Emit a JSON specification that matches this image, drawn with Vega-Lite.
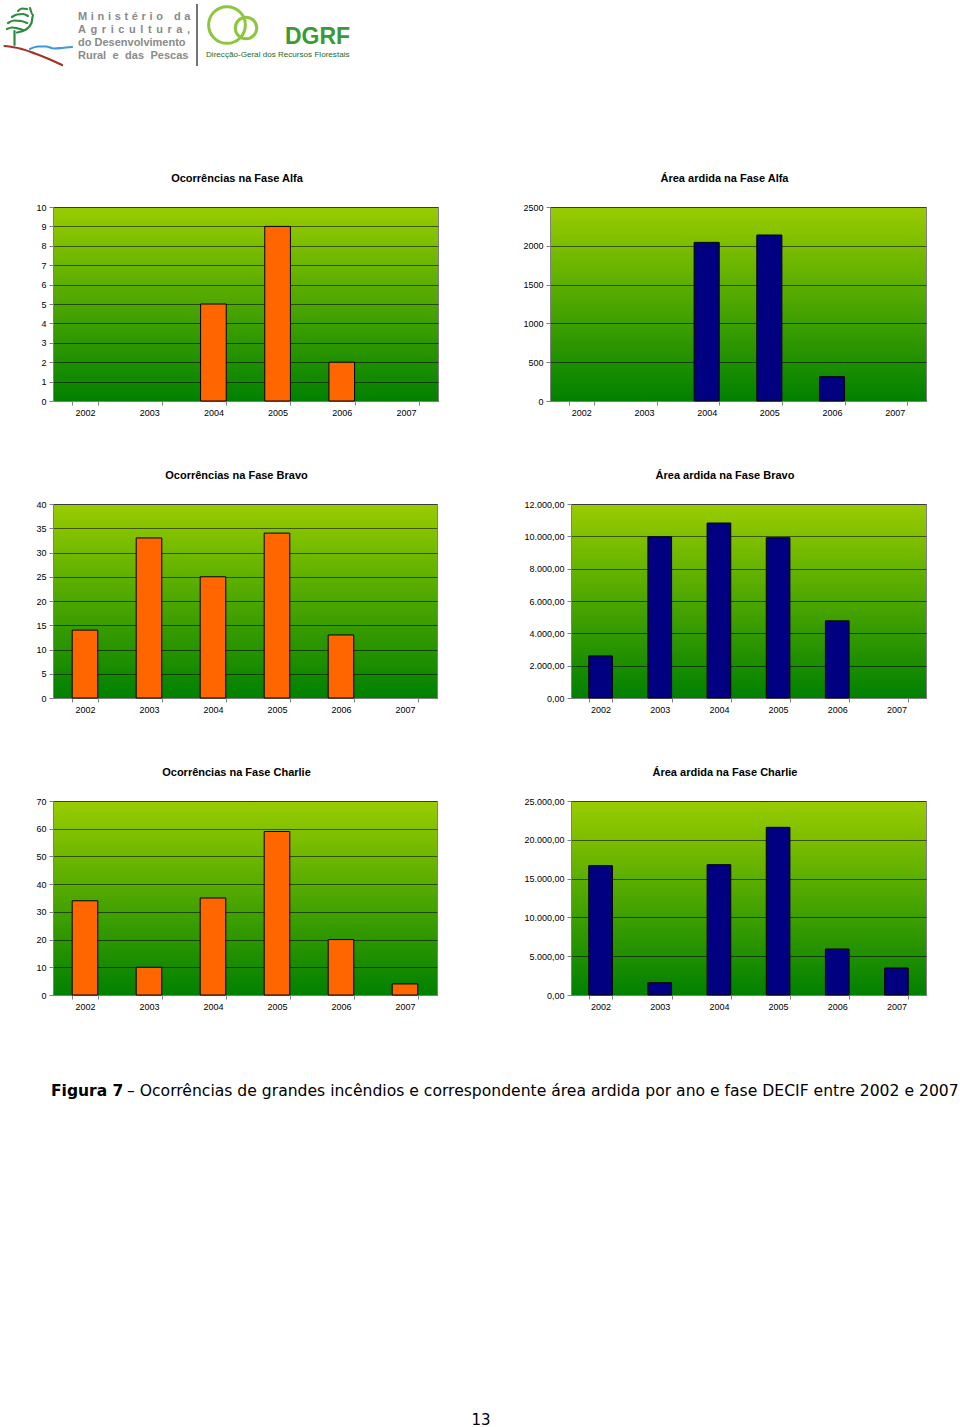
{
  "$schema": "https://vega.github.io/schema/vega-lite/v6.json",
  "background": "#ffffff",
  "padding": {"left": 3, "top": 0, "right": 0, "bottom": 0},
  "datasets": {
    "alfa_oc": [{"ano": "2004", "valor": 5}, {"ano": "2005", "valor": 9}, {"ano": "2006", "valor": 2}],
    "alfa_area": [{"ano": "2004", "valor": 2044}, {"ano": "2005", "valor": 2139}, {"ano": "2006", "valor": 314}],
    "bravo_oc": [{"ano": "2002", "valor": 14}, {"ano": "2003", "valor": 33}, {"ano": "2004", "valor": 25}, {"ano": "2005", "valor": 34}, {"ano": "2006", "valor": 13}],
    "bravo_area": [{"ano": "2002", "valor": 2602}, {"ano": "2003", "valor": 9976}, {"ano": "2004", "valor": 10823}, {"ano": "2005", "valor": 9914}, {"ano": "2006", "valor": 4771}],
    "charlie_oc": [{"ano": "2002", "valor": 34}, {"ano": "2003", "valor": 10}, {"ano": "2004", "valor": 35}, {"ano": "2005", "valor": 59}, {"ano": "2006", "valor": 20}, {"ano": "2007", "valor": 4}],
    "charlie_area": [{"ano": "2002", "valor": 16667}, {"ano": "2003", "valor": 1589}, {"ano": "2004", "valor": 16795}, {"ano": "2005", "valor": 21607}, {"ano": "2006", "valor": 5928}, {"ano": "2007", "valor": 3479}],
    "logo_linhas": [
      {"serie": "arcoA", "ordem": 1, "x": 18, "y": 7}, {"serie": "arcoA", "ordem": 2, "x": 22, "y": 4.5}, {"serie": "arcoA", "ordem": 3, "x": 27, "y": 5},
      {"serie": "arcoB", "ordem": 1, "x": 12, "y": 13}, {"serie": "arcoB", "ordem": 2, "x": 17, "y": 10.5}, {"serie": "arcoB", "ordem": 3, "x": 23, "y": 10}, {"serie": "arcoB", "ordem": 4, "x": 28, "y": 12},
      {"serie": "arcoC", "ordem": 1, "x": 8, "y": 19}, {"serie": "arcoC", "ordem": 2, "x": 14, "y": 16.5}, {"serie": "arcoC", "ordem": 3, "x": 21, "y": 17}, {"serie": "arcoC", "ordem": 4, "x": 27, "y": 19},
      {"serie": "arcoD", "ordem": 1, "x": 7, "y": 25}, {"serie": "arcoD", "ordem": 2, "x": 12, "y": 23.5}, {"serie": "arcoD", "ordem": 3, "x": 18, "y": 24.5}, {"serie": "arcoD", "ordem": 4, "x": 23, "y": 26},
      {"serie": "arcoE", "ordem": 1, "x": 30, "y": 4}, {"serie": "arcoE", "ordem": 2, "x": 33, "y": 11}, {"serie": "arcoE", "ordem": 3, "x": 31.5, "y": 19}, {"serie": "arcoE", "ordem": 4, "x": 26, "y": 25.5}, {"serie": "arcoE", "ordem": 5, "x": 17, "y": 28.5},
      {"serie": "tronco", "ordem": 1, "x": 14.5, "y": 27}, {"serie": "tronco", "ordem": 2, "x": 14.5, "y": 41},
      {"serie": "terra", "ordem": 1, "x": 4.5, "y": 42}, {"serie": "terra", "ordem": 2, "x": 20, "y": 44.5}, {"serie": "terra", "ordem": 3, "x": 35, "y": 49.5}, {"serie": "terra", "ordem": 4, "x": 50, "y": 55.5}, {"serie": "terra", "ordem": 5, "x": 62, "y": 61},
      {"serie": "agua", "ordem": 1, "x": 30, "y": 45}, {"serie": "agua", "ordem": 2, "x": 38, "y": 42.5}, {"serie": "agua", "ordem": 3, "x": 46, "y": 42.5}, {"serie": "agua", "ordem": 4, "x": 54, "y": 44.5}, {"serie": "agua", "ordem": 5, "x": 62, "y": 44}, {"serie": "agua", "ordem": 6, "x": 72, "y": 43}
    ],
    "logo_circulos": [
      {"x": 227, "y": 21, "tipo": "grande"},
      {"x": 246, "y": 24, "tipo": "pequeno"}
    ],
    "logo_separador": [{"x": 197, "y": 0, "y2": 62}],
    "cabecalho": [
      {"texto": "M\u2004i\u2004n\u2004i\u2004s\u2004t\u2004é\u2004r\u2004i\u2004o\u2004\u2004\u2004d\u2004a", "x": 78, "y": 13, "tipo": "ministerio"},
      {"texto": "A\u2005\u2006g\u2005\u2006r\u2005\u2006i\u2005\u2006c\u2005\u2006u\u2005\u2006l\u2005\u2006t\u2005\u2006u\u2005\u2006r\u2005\u2006a\u2005\u2006,", "x": 78, "y": 26, "tipo": "ministerio"},
      {"texto": "do Desenvolvimento", "x": 78, "y": 39, "tipo": "ministerio"},
      {"texto": "Rural\u2004\u2005e\u2004\u2005das\u2004\u2005Pescas", "x": 78, "y": 52, "tipo": "ministerio"},
      {"texto": "DGRF", "x": 285, "y": 33, "tipo": "sigla"},
      {"texto": "Direcção-Geral dos Recursos Florestais", "x": 206, "y": 51, "tipo": "nome"}
    ],
    "rodape": [
      {"texto": "Figura 7", "x": 51, "y": 1090, "tipo": "negrito"},
      {"texto": "– Ocorrências de grandes incêndios e correspondente área ardida por ano e fase DECIF entre 2002 e 2007", "x": 127, "y": 1090, "tipo": "normal"},
      {"texto": "13", "x": 481, "y": 1419, "tipo": "pagina"}
    ]
  },
  "vconcat": [
    {
      "width": 320, "height": 115,
      "view": {"fill": "#ffffff", "stroke": null},
      "layer": [
        {
          "data": {"name": "logo_linhas"},
          "mark": {"type": "line", "strokeCap": "round", "strokeJoin": "round", "interpolate": "monotone"},
          "encoding": {
            "x": {"field": "x", "type": "quantitative", "scale": {"domain": [53, 373], "nice": false, "zero": false}, "axis": null},
            "y": {"field": "y", "type": "quantitative", "scale": {"domain": [2, 117], "nice": false, "zero": false, "reverse": true}, "axis": null},
            "detail": {"field": "serie"},
            "order": {"field": "ordem"},
            "color": {"field": "serie", "type": "nominal", "legend": null, "scale": {"domain": ["arcoA", "arcoB", "arcoC", "arcoD", "arcoE", "tronco", "terra", "agua"], "range": ["#2e8b3e", "#2e8b3e", "#2e8b3e", "#2e8b3e", "#2e8b3e", "#2e8b3e", "#a3322a", "#3d9ad6"]}},
            "strokeWidth": {"field": "serie", "type": "nominal", "legend": null, "scale": {"domain": ["arcoA", "arcoB", "arcoC", "arcoD", "arcoE", "tronco", "terra", "agua"], "range": [2.2, 2.2, 2.2, 2.2, 2.2, 2.5, 3, 1.6]}}
          }
        },
        {
          "data": {"name": "logo_circulos"},
          "mark": {"type": "point", "shape": "circle", "filled": false, "stroke": "#8cc63f", "strokeWidth": 3, "opacity": 1},
          "encoding": {
            "x": {"field": "x", "type": "quantitative"},
            "y": {"field": "y", "type": "quantitative"},
            "size": {"field": "tipo", "type": "nominal", "legend": null, "scale": {"domain": ["grande", "pequeno"], "range": [1350, 460]}}
          }
        },
        {
          "data": {"name": "logo_separador"},
          "mark": {"type": "rule", "color": "#444444", "strokeWidth": 1.5},
          "encoding": {
            "x": {"field": "x", "type": "quantitative"},
            "y": {"field": "y", "type": "quantitative"},
            "y2": {"field": "y2"}
          }
        },
        {
          "data": {"name": "cabecalho"},
          "transform": [{"filter": "datum.tipo === 'ministerio'"}],
          "mark": {"type": "text", "align": "left", "baseline": "middle", "font": "Liberation Sans", "fontSize": 11, "fontWeight": "bold", "color": "#8a8a8a"},
          "encoding": {
            "x": {"field": "x", "type": "quantitative"},
            "y": {"field": "y", "type": "quantitative"},
            "text": {"field": "texto"}
          }
        },
        {
          "data": {"name": "cabecalho"},
          "transform": [{"filter": "datum.tipo === 'sigla'"}],
          "mark": {"type": "text", "align": "left", "baseline": "middle", "font": "Liberation Sans", "fontSize": 23, "fontWeight": "bold", "color": "#3a9a35"},
          "encoding": {
            "x": {"field": "x", "type": "quantitative"},
            "y": {"field": "y", "type": "quantitative"},
            "text": {"field": "texto"}
          }
        },
        {
          "data": {"name": "cabecalho"},
          "transform": [{"filter": "datum.tipo === 'nome'"}],
          "mark": {"type": "text", "align": "left", "baseline": "middle", "font": "Liberation Sans", "fontSize": 8.1, "color": "#226b2a"},
          "encoding": {
            "x": {"field": "x", "type": "quantitative"},
            "y": {"field": "y", "type": "quantitative"},
            "text": {"field": "texto"}
          }
        }
      ]
    },
    {
      "hconcat": [
        {
          "width": 385, "height": 194,
          "title": "Ocorrências na Fase Alfa",
          "data": {"name": "alfa_oc"},
          "mark": {"type": "bar", "fill": "#FF6600", "stroke": "#000000", "strokeWidth": 1},
          "encoding": {
            "x": {"field": "ano", "type": "nominal", "title": null, "scale": {"domain": ["2002", "2003", "2004", "2005", "2006", "2007"], "paddingInner": 0.6, "paddingOuter": 0.3}},
            "y": {"field": "valor", "type": "quantitative", "title": null, "scale": {"domain": [0, 10], "nice": false}, "axis": {"values": [0, 1, 2, 3, 4, 5, 6, 7, 8, 9, 10], "format": "d"}}
          }
        },
        {
          "width": 376, "height": 194,
          "title": "Área ardida na Fase Alfa",
          "data": {"name": "alfa_area"},
          "mark": {"type": "bar", "fill": "#000080", "stroke": "#000000", "strokeWidth": 1},
          "encoding": {
            "x": {"field": "ano", "type": "nominal", "title": null, "scale": {"domain": ["2002", "2003", "2004", "2005", "2006", "2007"], "paddingInner": 0.6, "paddingOuter": 0.3}},
            "y": {"field": "valor", "type": "quantitative", "title": null, "scale": {"domain": [0, 2500], "nice": false}, "axis": {"values": [0, 500, 1000, 1500, 2000, 2500], "format": "d"}}
          }
        }
      ],
      "spacing": 83
    },
    {
      "hconcat": [
        {
          "width": 384, "height": 194,
          "title": "Ocorrências na Fase Bravo",
          "data": {"name": "bravo_oc"},
          "mark": {"type": "bar", "fill": "#FF6600", "stroke": "#000000", "strokeWidth": 1},
          "encoding": {
            "x": {"field": "ano", "type": "nominal", "title": null, "scale": {"domain": ["2002", "2003", "2004", "2005", "2006", "2007"], "paddingInner": 0.6, "paddingOuter": 0.3}},
            "y": {"field": "valor", "type": "quantitative", "title": null, "scale": {"domain": [0, 40], "nice": false}, "axis": {"values": [0, 5, 10, 15, 20, 25, 30, 35, 40], "format": "d"}}
          }
        },
        {
          "width": 355, "height": 194,
          "title": "Área ardida na Fase Bravo",
          "data": {"name": "bravo_area"},
          "mark": {"type": "bar", "fill": "#000080", "stroke": "#000000", "strokeWidth": 1},
          "encoding": {
            "x": {"field": "ano", "type": "nominal", "title": null, "scale": {"domain": ["2002", "2003", "2004", "2005", "2006", "2007"], "paddingInner": 0.6, "paddingOuter": 0.3}},
            "y": {"field": "valor", "type": "quantitative", "title": null, "scale": {"domain": [0, 12000], "nice": false}, "axis": {"values": [0, 2000, 4000, 6000, 8000, 10000, 12000], "format": ",.2f"}}
          }
        }
      ],
      "spacing": 85
    },
    {
      "hconcat": [
        {
          "width": 384, "height": 194,
          "title": "Ocorrências na Fase Charlie",
          "data": {"name": "charlie_oc"},
          "mark": {"type": "bar", "fill": "#FF6600", "stroke": "#000000", "strokeWidth": 1},
          "encoding": {
            "x": {"field": "ano", "type": "nominal", "title": null, "scale": {"domain": ["2002", "2003", "2004", "2005", "2006", "2007"], "paddingInner": 0.6, "paddingOuter": 0.3}},
            "y": {"field": "valor", "type": "quantitative", "title": null, "scale": {"domain": [0, 70], "nice": false}, "axis": {"values": [0, 10, 20, 30, 40, 50, 60, 70], "format": "d"}}
          }
        },
        {
          "width": 355, "height": 194,
          "title": "Área ardida na Fase Charlie",
          "data": {"name": "charlie_area"},
          "mark": {"type": "bar", "fill": "#000080", "stroke": "#000000", "strokeWidth": 1},
          "encoding": {
            "x": {"field": "ano", "type": "nominal", "title": null, "scale": {"domain": ["2002", "2003", "2004", "2005", "2006", "2007"], "paddingInner": 0.6, "paddingOuter": 0.3}},
            "y": {"field": "valor", "type": "quantitative", "title": null, "scale": {"domain": [0, 25000], "nice": false}, "axis": {"values": [0, 5000, 10000, 15000, 20000, 25000], "format": ",.2f"}}
          }
        }
      ],
      "spacing": 85
    },
    {
      "width": 800, "height": 365,
      "view": {"fill": "#ffffff", "stroke": null},
      "data": {"name": "rodape"},
      "layer": [
        {
          "transform": [{"filter": "datum.tipo === 'negrito'"}],
          "mark": {"type": "text", "align": "left", "baseline": "middle", "font": "DejaVu Sans", "fontSize": 15.5, "fontWeight": "bold", "color": "#000000"},
          "encoding": {
            "x": {"field": "x", "type": "quantitative", "scale": {"domain": [53, 853], "nice": false, "zero": false}, "axis": null},
            "y": {"field": "y", "type": "quantitative", "scale": {"domain": [1062, 1427], "nice": false, "zero": false, "reverse": true}, "axis": null},
            "text": {"field": "texto"}
          }
        },
        {
          "transform": [{"filter": "datum.tipo === 'normal'"}],
          "mark": {"type": "text", "align": "left", "baseline": "middle", "font": "DejaVu Sans", "fontSize": 15.6, "color": "#000000"},
          "encoding": {
            "x": {"field": "x", "type": "quantitative"},
            "y": {"field": "y", "type": "quantitative"},
            "text": {"field": "texto"}
          }
        },
        {
          "transform": [{"filter": "datum.tipo === 'pagina'"}],
          "mark": {"type": "text", "align": "center", "baseline": "middle", "font": "DejaVu Sans", "fontSize": 15, "color": "#000000"},
          "encoding": {
            "x": {"field": "x", "type": "quantitative"},
            "y": {"field": "y", "type": "quantitative"},
            "text": {"field": "texto"}
          }
        }
      ]
    }
  ],
  "spacing": 51,
  "config": {
    "locale": {"number": {"decimal": ",", "thousands": ".", "grouping": [3], "currency": ["", " €"]}},
    "font": "Liberation Sans",
    "view": {
      "fill": {"gradient": "linear", "x1": 0, "y1": 0, "x2": 0, "y2": 1, "stops": [{"offset": 0, "color": "#99CC00"}, {"offset": 1, "color": "#008000"}]},
      "stroke": "#808080",
      "strokeWidth": 1
    },
    "axis": {
      "labelFont": "Liberation Sans",
      "labelFontSize": 9,
      "labelColor": "#000000",
      "domainColor": "#808080",
      "tickColor": "#808080",
      "tickSize": 4,
      "labelPadding": 3
    },
    "axisX": {"grid": false, "tickBand": "extent", "labelAngle": 0},
    "axisY": {"grid": true, "gridColor": "#000000", "gridOpacity": 0.55, "gridWidth": 1},
    "title": {"font": "Liberation Sans", "fontSize": 11, "fontWeight": "bold", "color": "#000000", "anchor": "middle", "frame": "bounds", "baseline": "alphabetic", "offset": 19}
  }
}
